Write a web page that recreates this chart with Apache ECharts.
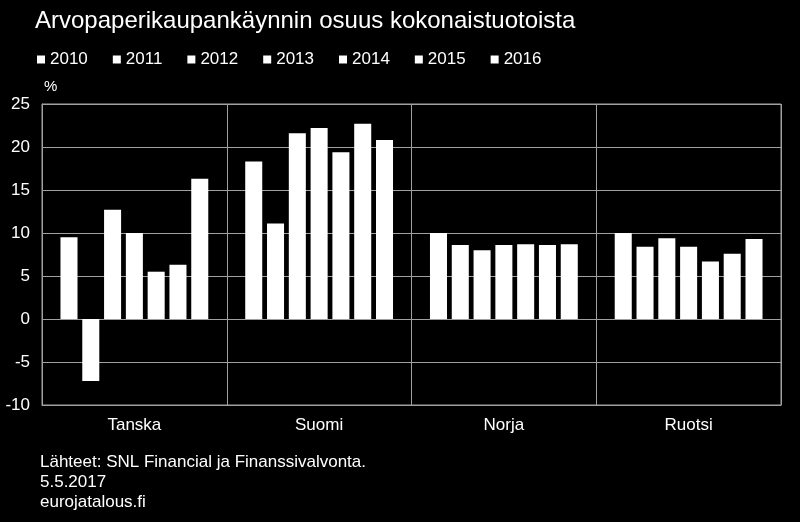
<!DOCTYPE html>
<html><head><meta charset="utf-8">
<script src="https://cdn.jsdelivr.net/npm/echarts@6/dist/echarts.min.js"></script>
<style>html,body{margin:0;padding:0;background:#000;}#c{width:800px;height:522px;}</style>
</head><body><div id="c"></div>
<script>
var categories = ['Tanska', 'Suomi', 'Norja', 'Ruotsi'];
var years = ['2010', '2011', '2012', '2013', '2014', '2015', '2016'];
var s2010 = [9.5, 18.3, 10.0, 10.0];
var s2011 = [-7.2, 11.1, 8.6, 8.4];
var s2012 = [12.7, 21.6, 8.0, 9.4];
var s2013 = [10.0, 22.2, 8.6, 8.4];
var s2014 = [5.5, 19.4, 8.7, 6.7];
var s2015 = [6.3, 22.7, 8.6, 7.6];
var s2016 = [16.3, 20.8, 8.7, 9.3];
var yTicks = { min: -10, max: 25, interval: 5 };
var seriesData = [s2010, s2011, s2012, s2013, s2014, s2015, s2016];

var FONT = '"Liberation Sans", Arial, sans-serif';
var chart = echarts.init(document.getElementById('c'));
chart.setOption({
  backgroundColor: '#000',
  animation: false,
  textStyle: { fontFamily: FONT, color: '#fff' },
  title: [
    { text: 'Arvopaperikaupankäynnin osuus kokonaistuotoista', left: 35, top: 9, padding: 0,
      textStyle: { color: '#fff', fontSize: 24, fontWeight: 'normal', fontFamily: FONT } },
    { text: '%', left: 44, top: 79, padding: 0, textStyle: { color: '#fff', fontSize: 15, fontWeight: 'normal', fontFamily: FONT } },
    { text: 'Lähteet: SNL Financial ja Finanssivalvonta.\n5.5.2017\neurojatalous.fi', left: 40, top: 452, padding: 0,
      textStyle: { color: '#fff', fontSize: 17, lineHeight: 20, fontWeight: 'normal', fontFamily: FONT } }
  ],
  legend: {
    data: years, left: 32, top: 46, icon: 'rect', itemWidth: 8, itemHeight: 8, itemGap: 25,
    textStyle: { color: '#fff', fontSize: 17, fontFamily: FONT }
  },
  grid: { left: 42, right: 19, top: 104, bottom: 117, show: true, borderColor: '#a0a0a0', borderWidth: 1 },
  xAxis: {
    type: 'category', data: categories,
    axisLine: { onZero: false, lineStyle: { color: '#a0a0a0' } },
    axisTick: { show: false },
    splitLine: { show: true, interval: 0, lineStyle: { color: '#a0a0a0' } },
    axisLabel: { color: '#fff', fontSize: 17, margin: 12, fontFamily: FONT }
  },
  yAxis: {
    type: 'value', min: yTicks.min, max: yTicks.max, interval: yTicks.interval,
    axisLine: { show: true, lineStyle: { color: '#a0a0a0' } },
    axisTick: { show: false },
    splitLine: { show: true, lineStyle: { color: '#a0a0a0' } },
    axisLabel: { color: '#fff', fontSize: 17, margin: 12, fontFamily: FONT }
  },
  series: years.map(function (y, i) {
    return { name: y, type: 'bar', data: seriesData[i], barCategoryGap: '20%', barGap: '28%',
      itemStyle: { color: '#fff' } };
  })
});
</script></body></html>
